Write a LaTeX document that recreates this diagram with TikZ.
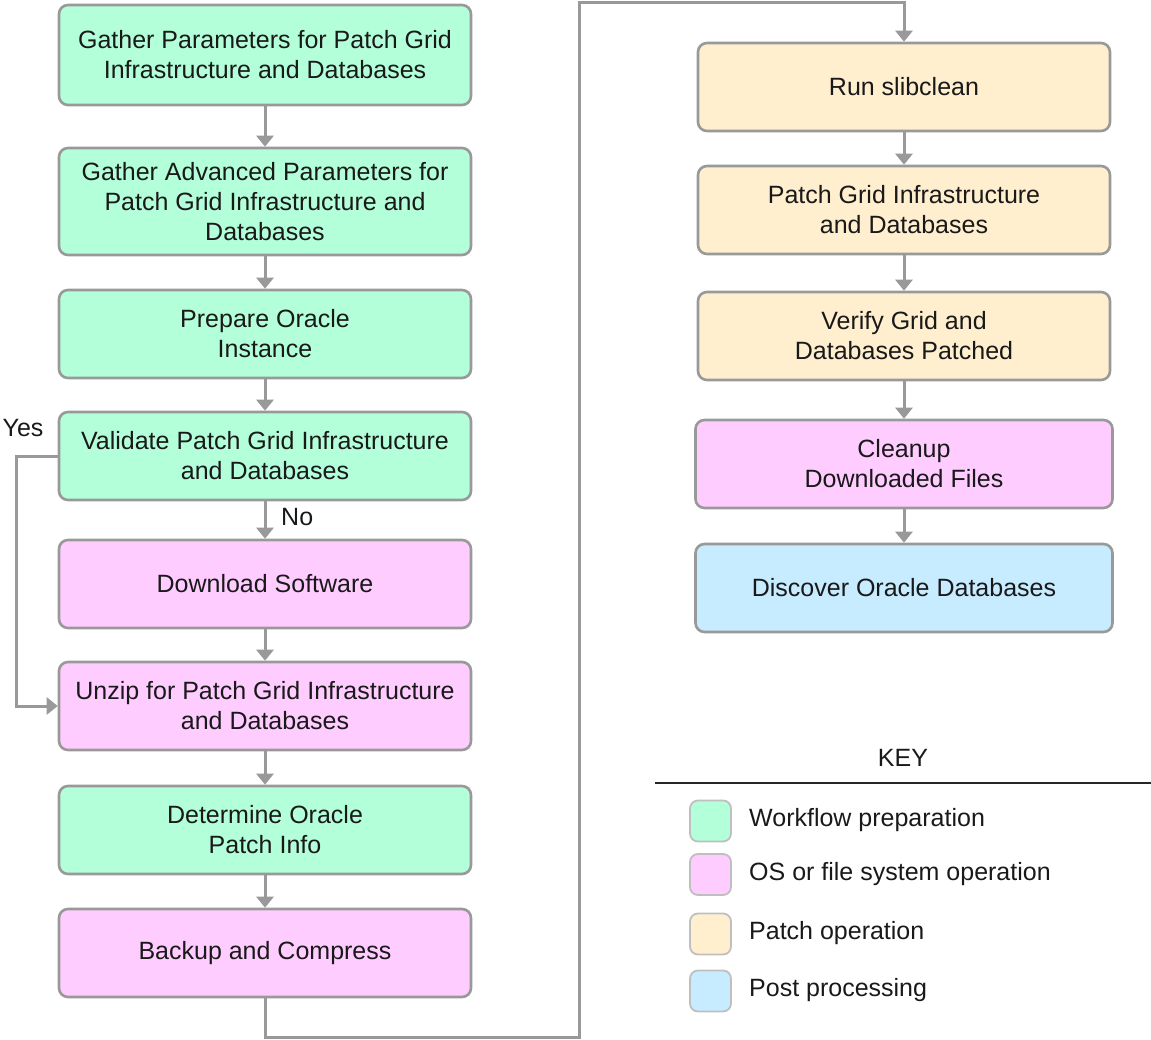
\documentclass[tikz,border=0pt]{standalone}
\usepackage{fontspec}
\setmainfont{Liberation Sans}
\usetikzlibrary{arrows.meta}
\definecolor{cgreen}{HTML}{B3FFD9}
\definecolor{cpink}{HTML}{FFCCFF}
\definecolor{cbeige}{HTML}{FFEFCF}
\definecolor{cblue}{HTML}{C7EBFF}
\definecolor{cline}{HTML}{999999}
\tikzset{
  box/.style={draw=cline, line width=2.6pt, rounded corners=9pt, minimum width=412pt, align=center,
    font=\fontsize{25}{30}\selectfont, text=black!90, inner sep=0pt},
  conn/.style={draw=cline, line width=3pt, -{Triangle[width=17pt,length=11pt]}},
  swatch/.style={draw=black!25, line width=1.8pt, rounded corners=8pt, minimum width=41pt, minimum height=41pt, inner sep=0pt},
  keytext/.style={anchor=west, font=\fontsize{25}{28}\selectfont, text=black!90, inner sep=0pt},
  lbl/.style={font=\fontsize{25}{28}\selectfont, text=black!90, inner sep=0pt}
}
\begin{document}
\begin{tikzpicture}[x=1pt,y=-1pt]
\useasboundingbox (0,0) rectangle (1151,1040);
% left column
\node[box, fill=cgreen, minimum height=100pt] (b1) at (265,55) {Gather Parameters for Patch Grid\\Infrastructure and Databases};
\node[box, fill=cgreen, minimum height=107pt] (b2) at (265,201.5) {Gather Advanced Parameters for\\Patch Grid Infrastructure and\\Databases};
\node[box, fill=cgreen, minimum height=88pt] (b3) at (265,334) {Prepare Oracle\\Instance};
\node[box, fill=cgreen, minimum height=88pt] (b4) at (265,456) {Validate Patch Grid Infrastructure\\and Databases};
\node[box, fill=cpink, minimum height=88pt] (b5) at (265,584) {Download Software};
\node[box, fill=cpink, minimum height=88pt] (b6) at (265,706) {Unzip for Patch Grid Infrastructure\\and Databases};
\node[box, fill=cgreen, minimum height=88pt] (b7) at (265,830) {Determine Oracle\\Patch Info};
\node[box, fill=cpink, minimum height=88pt] (b8) at (265,953) {Backup and Compress};
% right column
\node[box, fill=cbeige, minimum height=88pt] (r1) at (904,87) {Run slibclean};
\node[box, fill=cbeige, minimum height=88pt] (r2) at (904,210) {Patch Grid Infrastructure\\and Databases};
\node[box, fill=cbeige, minimum height=88pt] (r3) at (904,336) {Verify Grid and\\Databases Patched};
\node[box, fill=cpink, minimum height=88pt, minimum width=417pt] (r4) at (904,464) {Cleanup\\Downloaded Files};
\node[box, fill=cblue, minimum height=88pt, minimum width=417pt] (r5) at (904,588) {Discover Oracle Databases};
% connectors
\draw[conn] (b1) -- (b2);
\draw[conn] (b2) -- (b3);
\draw[conn] (b3) -- (b4);
\draw[conn] (b4) -- (b5);
\draw[conn] (b5) -- (b6);
\draw[conn] (b6) -- (b7);
\draw[conn] (b7) -- (b8);
\draw[conn] (r1) -- (r2);
\draw[conn] (r2) -- (r3);
\draw[conn] (r3) -- (r4);
\draw[conn] (r4) -- (r5);
\coordinate (yl1) at (16,456);
\coordinate (yl2) at (16,706);
\draw[conn] (b4.west) -- (yl1) -- (yl2) -- (b6.west);
\coordinate (bl1) at (265,1037);
\coordinate (bl2) at (579,1037);
\coordinate (bl3) at (579,3);
\coordinate (bl4) at (904,3);
\draw[conn] (b8.south) -- (bl1) -- (bl2) -- (bl3) -- (bl4) -- (r1.north);
% labels
\node[lbl] (yes) at (23,428) {Yes};
\node[lbl, anchor=west] (no) at (281,517) {No};
% key
\node[lbl] (key) at (903,758) {KEY};
\coordinate (kl1) at (655,783);
\coordinate (kl2) at (1151,783);
\draw[line width=2.2pt, black!85] (kl1) -- (kl2);
\node[swatch, fill=cgreen] (s1) at (710.5,821) {};
\node[swatch, fill=cpink] (s2) at (710.5,874.5) {};
\node[swatch, fill=cbeige] (s3) at (710.5,934) {};
\node[swatch, fill=cblue] (s4) at (710.5,991) {};
\node[keytext] (t1) at (749,820) {Workflow preparation};
\node[keytext] (t2) at (749,874) {OS or file system operation};
\node[keytext] (t3) at (749,933) {Patch operation};
\node[keytext] (t4) at (749,990) {Post processing};
\end{tikzpicture}
\end{document}
